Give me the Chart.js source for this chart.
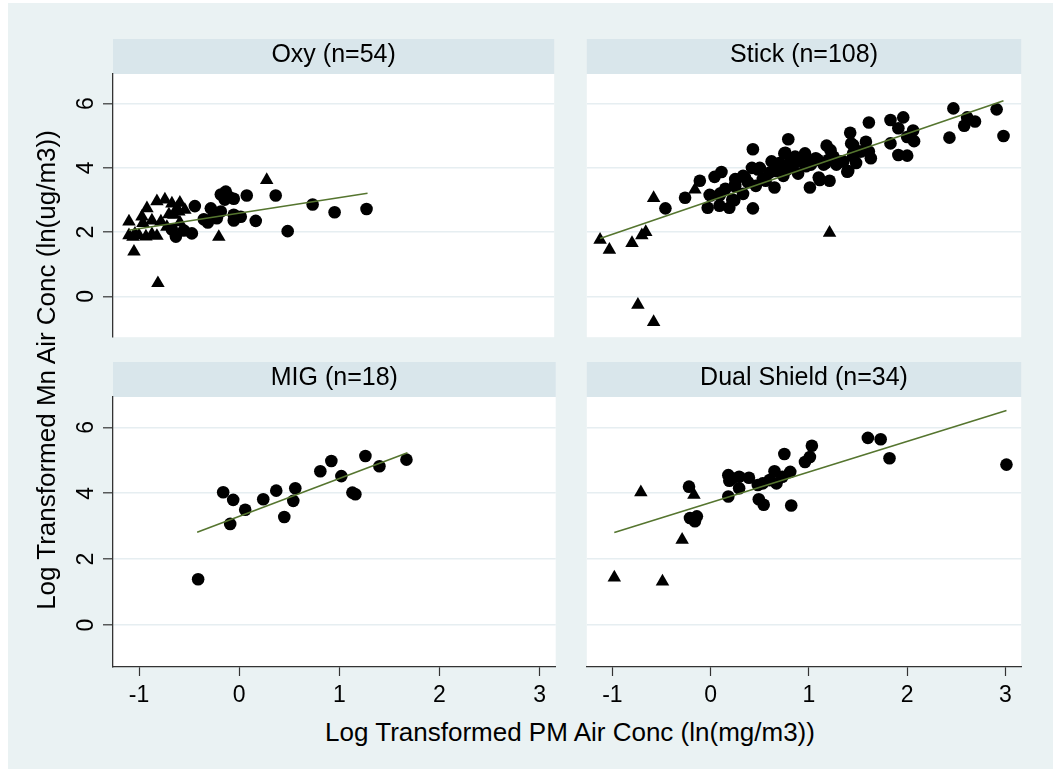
<!DOCTYPE html>
<html>
<head>
<meta charset="utf-8">
<script src="https://cdn.jsdelivr.net/npm/chart.js@4.4.1/dist/chart.umd.min.js"></script>
<style>
html, body { margin: 0; padding: 0; background: #fff; overflow: hidden; width: 1053px; height: 769px; }
#bg { position: absolute; left: 8px; top: 3px; width: 1045px; height: 766px; background: #eaf2f3; }
canvas { position: absolute; }
.axtitle { position: absolute; font-family: "Liberation Sans", Arial, sans-serif; font-size: 26px; color: #000;
  text-align: center; white-space: nowrap; height: 30px; line-height: 30px; }
</style>
</head>
<body>
<div id="bg"></div>
<canvas id="oxy" width="509" height="306" style="left:53px;top:39px"></canvas>
<canvas id="stick" width="450" height="306" style="left:579px;top:39px"></canvas>
<canvas id="mig" width="509" height="355" style="left:53px;top:362px"></canvas>
<canvas id="dual" width="450" height="355" style="left:579px;top:362px"></canvas>
<div class="axtitle" style="left:-254px;top:355px;width:600px;transform:rotate(-90deg)">Log Transformed Mn Air Conc (ln(ug/m3))</div>
<div class="axtitle" style="left:170px;top:717px;width:800px">Log Transformed PM Air Conc (ln(mg/m3))</div>
<script>
// axis ticks shared by all panels
const xTicks = [-1, 0, 1, 2, 3];
const yTicks = [0, 2, 4, 6];
const panelTitles = ['Oxy (n=54)', 'Stick (n=108)', 'MIG (n=18)', 'Dual Shield (n=34)'];

// Oxy
const oxyTriangles = [[-1.10,2.33],[-0.92,2.74],[-0.82,2.96],[-0.74,3.01],[-0.67,2.89],[-0.59,2.91],[-0.54,2.69],
  [-0.65,2.54],[-0.97,2.48],[-0.87,2.36],[-0.78,2.33],[-0.59,2.30],[-1.10,1.90],[-1.00,1.90],[-0.87,1.93],
  [-0.82,1.88],[-1.04,1.95],[-0.72,2.16],[-0.60,2.64],[-0.96,2.28],[-1.05,1.39],[-0.81,0.41],[-0.20,1.85],
  [0.28,3.62],[-1.06,1.85],[-0.93,1.86],[-0.62,2.75],[-0.70,2.55]];
const oxyCircles = [[-0.44,2.81],[-0.28,2.74],[-0.18,3.17],[-0.13,3.26],[-0.05,3.04],[0.08,3.14],[0.37,3.14],
  [-0.31,2.30],[-0.22,2.43],[-0.18,2.64],[-0.05,2.54],[-0.05,2.36],[0.17,2.35],[0.49,2.03],[-0.47,1.96],
  [-0.63,1.86],[-0.67,2.08],[-0.14,3.01],[0.74,2.86],[0.96,2.62],[1.28,2.72],[-0.10,3.10],[-0.25,2.55],
  [-0.55,2.05],[-0.35,2.40],[0.02,2.48]];
const oxyFit = [[-1.10,2.06],[1.29,3.21]];

// Stick
const stickTriangles = [[-1.125,1.76],[-1.03,1.45],[-0.80,1.66],[-0.70,1.90],[-0.66,2.00],[-0.58,3.06],
  [-0.16,3.32],[1.21,1.98],[-0.74,-0.26],[-0.58,-0.80]];
const stickCircles = [[-0.46,2.74],[-0.26,3.07],[-0.11,3.60],[0.04,3.72],[0.11,3.87],[-0.03,2.76],[0.09,2.82],
  [-0.01,3.16],[0.10,3.21],[0.19,2.76],[0.24,2.99],[0.25,3.49],[0.33,3.19],[0.33,3.75],[0.43,4.58],[0.43,2.74],
  [0.42,4.00],[0.46,3.44],[0.50,4.00],[0.56,3.60],[0.62,4.20],[0.65,3.39],[0.66,3.90],[0.74,3.75],[0.75,4.45],
  [0.79,4.89],[0.89,3.82],[0.89,4.25],[0.96,4.45],[1.01,3.39],[1.02,4.10],[1.09,4.25],[1.11,3.62],[1.18,4.69],
  [1.21,3.60],[1.22,4.55],[1.15,4.10],[1.28,4.10],[1.35,4.20],[1.39,3.88],[1.42,5.09],[1.45,4.71],[1.45,4.45],
  [1.48,4.15],[1.53,4.51],[1.58,4.81],[1.61,5.41],[1.61,4.51],[1.63,4.30],[1.83,5.49],[1.96,5.57],[1.91,5.23],
  [1.83,4.76],[1.91,4.40],[2.00,4.38],[2.06,5.16],[2.07,4.83],[2.00,4.96],[2.43,4.94],[2.47,5.85],[2.58,5.31],
  [2.61,5.57],[2.69,5.44],[2.91,5.82],[2.98,4.99],[0.00,3.14],[0.09,3.14],[0.22,3.01],[0.25,3.65],[0.25,3.42],
  [0.35,3.70],[0.48,3.95],[0.53,3.65],[0.71,4.00],[0.76,4.47],[0.81,4.20],[0.86,4.35],[0.91,4.20],[0.97,4.05],
  [1.07,4.30],[1.10,3.70],[1.17,4.15],[1.33,4.20],[1.40,3.90],[1.43,4.76],[1.45,4.35],[1.51,4.51],[0.60,3.85],
  [0.68,4.05],[0.84,4.10],[0.93,4.30],[1.04,4.20],[0.38,3.55],[0.15,3.35],[1.25,4.35],[0.78,3.95],[1.20,4.25],
  [0.70,4.15]];
const stickFit = [[-1.125,1.80],[2.98,6.09]];

// MIG
const migTriangles = [];
const migCircles = [[-0.41,1.39],[-0.16,4.03],[-0.06,3.80],[0.06,3.50],[-0.09,3.07],[0.24,3.82],[0.37,4.08],
  [0.45,3.28],[0.54,3.77],[0.56,4.15],[0.81,4.67],[0.92,4.98],[1.02,4.52],[1.13,4.02],[1.16,3.97],[1.26,5.13],
  [1.40,4.82],[1.67,5.02]];
const migFit = [[-0.42,2.82],[1.68,5.23]];

// Dual Shield
const dualTriangles = [[-0.98,1.44],[-0.71,4.03],[-0.49,1.32],[-0.29,2.59],[-0.17,3.95]];
const dualCircles = [[-0.22,4.20],[-0.21,3.25],[-0.14,3.30],[-0.16,3.15],[0.18,4.55],[0.19,4.38],[0.18,3.90],
  [0.29,4.50],[0.29,4.15],[0.39,4.47],[0.48,4.25],[0.53,4.30],[0.49,3.82],[0.54,3.65],[0.65,4.67],[0.67,4.30],
  [0.75,5.19],[0.73,4.50],[0.81,4.65],[0.82,3.63],[0.96,4.95],[1.01,5.10],[1.03,5.44],[1.60,5.68],[1.73,5.64],
  [1.82,5.06],[3.01,4.87],[0.60,4.40],[0.22,4.45]];
const dualFit = [[-0.98,2.81],[3.01,6.51]];

const FONT = '"Liberation Sans", Arial, sans-serif';
Chart.defaults.font.family = FONT;
Chart.defaults.color = '#000';

// grey strip behind the panel title and white plot region
const stripPlugin = {
  id: 'strip',
  beforeDraw(chart) {
    const { ctx, chartArea: a } = chart;
    ctx.save();
    ctx.fillStyle = '#d9e6eb';
    ctx.fillRect(a.left, 0, a.right - a.left, a.top);
    ctx.fillStyle = '#ffffff';
    ctx.fillRect(a.left, a.top, a.right - a.left, a.bottom - a.top);
    ctx.restore();
  }
};

const toXY = arr => arr.map(p => ({ x: p[0], y: p[1] }));

function makePanel(id, title, circles, triangles, fit, showY, showX) {
  new Chart(document.getElementById(id), {
    type: 'scatter',
    data: {
      datasets: [
        { type: 'line', data: toXY(fit), borderColor: '#55752f', borderWidth: 1.6, pointRadius: 0, fill: false, order: 0 },
        { data: toXY(circles), pointStyle: 'circle', pointRadius: 6.3, backgroundColor: '#000', borderWidth: 0, order: 1 },
        { data: toXY(triangles), pointStyle: 'triangle', pointRadius: 7.8, backgroundColor: '#000', borderWidth: 0, order: 1 }
      ]
    },
    options: {
      responsive: false,
      animation: false,
      devicePixelRatio: 1,
      events: [],
      layout: { padding: 0 },
      plugins: {
        legend: { display: false },
        tooltip: { enabled: false },
        title: { display: true, text: title, fullSize: false, color: '#000',
          font: { size: 25, weight: 'normal', lineHeight: 1.2 }, padding: { top: 1, bottom: 4 } }
      },
      scales: {
        x: {
          type: 'linear', display: showX, min: -1.26, max: 3.16,
          afterBuildTicks: s => { s.ticks = xTicks.map(v => ({ value: v })); },
          afterFit: s => { if (showX) s.height = 50; s.paddingLeft = 0; s.paddingRight = 0; },
          grid: { drawOnChartArea: false, drawTicks: true, tickLength: 9, tickColor: '#333', tickWidth: 1.2 },
          border: { display: true, color: '#333', width: 1.3 },
          ticks: { font: { size: 23 }, color: '#000', padding: 6, minRotation: 0, maxRotation: 0 }
        },
        y: {
          type: 'linear', min: -1.27, max: 6.92,
          afterBuildTicks: s => { s.ticks = yTicks.map(v => ({ value: v })); },
          afterFit: s => { s.width = showY ? 60 : 0; s.paddingTop = 0; s.paddingBottom = 0; },
          grid: { color: '#e6eef1', lineWidth: 1.6, drawTicks: showY, tickLength: 10, tickColor: '#333', tickWidth: 1.2 },
          border: { display: showY, color: '#333', width: 1.3 },
          ticks: { display: showY, font: { size: 23 }, color: '#000', padding: 10,
            minRotation: 90, maxRotation: 90, crossAlign: 'center' }
        }
      }
    },
    plugins: [stripPlugin]
  });
}

makePanel('oxy', panelTitles[0], oxyCircles, oxyTriangles, oxyFit, true, false);
makePanel('stick', panelTitles[1], stickCircles, stickTriangles, stickFit, false, false);
makePanel('mig', panelTitles[2], migCircles, migTriangles, migFit, true, true);
makePanel('dual', panelTitles[3], dualCircles, dualTriangles, dualFit, false, true);
</script>
</body>
</html>
